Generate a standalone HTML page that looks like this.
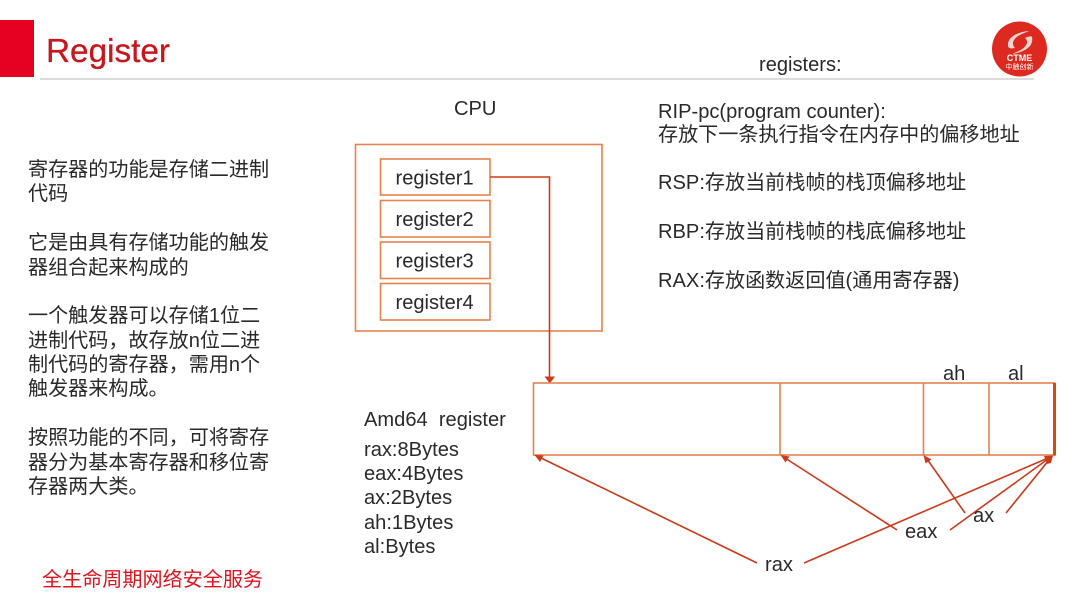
<!DOCTYPE html>
<html lang="zh">
<head>
<meta charset="utf-8">
<style>
html,body{margin:0;padding:0;background:#fff}
svg{display:block}
text{font-family:"Liberation Sans","Noto Sans CJK SC",sans-serif;fill:#2a2a2a}
.z{font-size:20.1px}
.b{fill:none;stroke:#e5824f;stroke-width:1.6}
.a{stroke:#cc3a1c;stroke-width:1.6;fill:none}
.h{fill:#cc3a1c}
</style>
</head>
<body>
<svg width="1080" height="608" viewBox="0 0 1080 608" xmlns="http://www.w3.org/2000/svg">
<rect width="1080" height="608" fill="#fff"/>
<rect x="0" y="20" width="34" height="57" fill="#e60020"/>
<rect x="40" y="78" width="994" height="2" fill="#dcdcdc"/>
<text x="46" y="62" font-size="33.300" style="fill:#c8161d;stroke:#c8161d;stroke-width:.3">Register</text>

<circle cx="1019.500" cy="49" r="27.500" fill="#dd2a20"/>
<path d="M1008 46c-1-8 8-14 21-15-7 3-13 5-15 9-2 3-1 6 1 8-4 1-7 0-7-2zM1032 37c2 9-7 15-20 17 7-3 12-5 14-9 2-3 1-5-1-7 4-2 7-2 7-1z" fill="#f6d5cf"/>
<text x="1019.500" y="61" font-size="9" font-weight="bold" text-anchor="middle" style="fill:#fff">CTME</text>
<text x="1019.500" y="69" font-size="7" text-anchor="middle" style="fill:#fff">中触创新</text>

<text x="759" y="71" class="z">registers:</text>
<text x="454" y="115" class="z">CPU</text>

<g class="z">
<text x="28" y="176">寄存器的功能是存储二进制</text>
<text x="28" y="200">代码</text>
<text x="28" y="249">它是由具有存储功能的触发</text>
<text x="28" y="274">器组合起来构成的</text>
<text x="28" y="322">一个触发器可以存储1位二</text>
<text x="28" y="347">进制代码，故存放n位二进</text>
<text x="28" y="371">制代码的寄存器，需用n个</text>
<text x="28" y="395">触发器来构成。</text>
<text x="28" y="444">按照功能的不同，可将寄存</text>
<text x="28" y="469">器分为基本寄存器和移位寄</text>
<text x="28" y="493">存器两大类。</text>
</g>
<text x="42" y="586" class="z" style="fill:#e0141e">全生命周期网络安全服务</text>

<g class="z">
<text x="658" y="118">RIP-pc(program counter):</text>
<text x="658" y="141">存放下一条执行指令在内存中的偏移地址</text>
<text x="658" y="189">RSP:存放当前栈帧的栈顶偏移地址</text>
<text x="658" y="238">RBP:存放当前栈帧的栈底偏移地址</text>
<text x="658" y="287">RAX:存放函数返回值(通用寄存器)</text>
</g>

<rect class="b" x="355.500" y="144.500" width="246.500" height="186.500"/>
<rect class="b" x="380.500" y="159" width="109.500" height="36"/>
<rect class="b" x="380.500" y="200.500" width="109.500" height="36.500"/>
<rect class="b" x="380.500" y="242" width="109.500" height="36.500"/>
<rect class="b" x="380.500" y="283.500" width="109.500" height="36.500"/>
<g class="z">
<text x="395.500" y="184.500">register1</text>
<text x="395.500" y="226">register2</text>
<text x="395.500" y="267.500">register3</text>
<text x="395.500" y="309">register4</text>
</g>

<path class="a" d="M490 177H549.500V378"/>
<path class="h" d="M544.500 376.500H555L549.800 383.500Z"/>

<rect class="b" x="533.500" y="383" width="521" height="72"/>
<path class="b" d="M780 383V455M923.500 383V455M989 383V455"/>
<rect x="1053" y="383" width="3" height="72.500" fill="#d9480f"/>

<text x="943" y="380" class="z">ah</text>
<text x="1008" y="380" class="z">al</text>

<text x="364" y="426" class="z">Amd64&#160; register</text>
<g class="z">
<text x="364" y="456">rax:8Bytes</text>
<text x="364" y="480">eax:4Bytes</text>
<text x="364" y="504">ax:2Bytes</text>
<text x="364" y="529">ah:1Bytes</text>
<text x="364" y="553">al:Bytes</text>
</g>

<path class="a" d="M757 563L540 457.500"/>
<path class="h" d="M534.500 455L543.500 455.500 540 462Z"/>
<path class="a" d="M897 530L785 458"/>
<path class="h" d="M780.500 455L789.500 456.500 785.500 462.500Z"/>
<path class="a" d="M965 513L927 459"/>
<path class="h" d="M923.500 455L931.500 459.500 925.500 463.500Z"/>
<path class="a" d="M804 563L1048 458"/>
<path class="a" d="M950 530L1048 459"/>
<path class="a" d="M1006 513L1049 460"/>
<path class="h" d="M1053 455.500L1044 456 1047 464 1051 463Z"/>

<text x="905" y="538" class="z">eax</text>
<text x="973" y="522" class="z">ax</text>
<text x="765" y="571" class="z">rax</text>
</svg>
</body>
</html>
